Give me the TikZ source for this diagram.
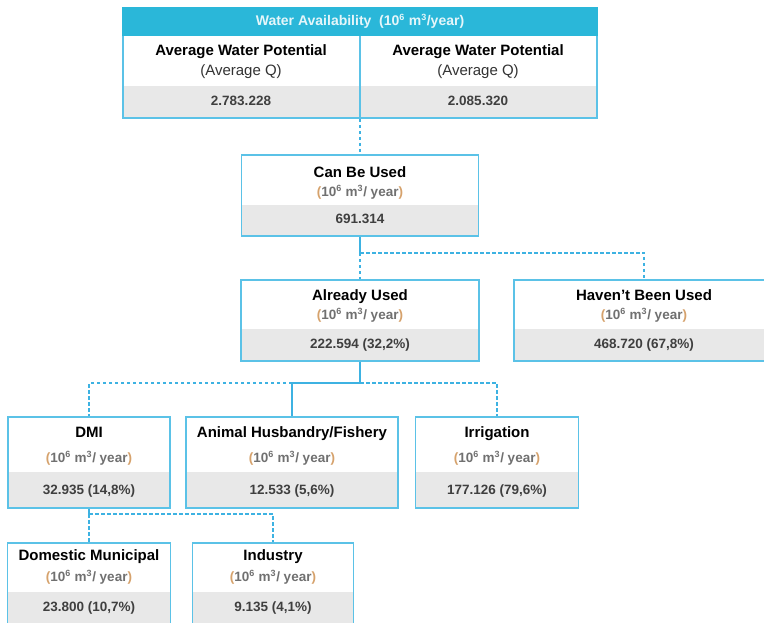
\documentclass[tikz,border=0pt]{standalone}
\usepackage{fontspec}
\setmainfont{Liberation Sans}
\usetikzlibrary{positioning}
\definecolor{boxblue}{HTML}{5BC2E7}
\definecolor{linkblue}{HTML}{3DB2E2}
\definecolor{headcyan}{HTML}{2AB7D9}
\definecolor{bandgray}{HTML}{E8E8E8}
\definecolor{unitgray}{HTML}{707070}
\definecolor{valgray}{HTML}{3F3F3F}
\definecolor{parenorange}{HTML}{D6A26C}
\newcommand{\sups}[1]{\textsuperscript{\fontsize{9}{9}\selectfont #1}}
\newcommand{\units}{\textcolor{parenorange}{(}10\sups{6} m\sups{3}/ year\textcolor{parenorange}{)}}

\begin{document}
\begin{tikzpicture}[x=1pt, y=-1pt,
    box/.style={draw=boxblue, line width=1.7pt, fill=white, inner sep=0pt,
        path picture={\fill[bandgray] ([yshift=#1pt]path picture bounding box.south west)
            rectangle (path picture bounding box.south east);}},
    box/.default=32,
    txt/.style={inner sep=0pt, text height=0.72em, text depth=0pt},
    title/.style={txt, font=\fontsize{15}{18}\selectfont\bfseries, text=black},
    unit/.style={txt, font=\fontsize{13.5}{16}\selectfont\bfseries, text=unitgray},
    value/.style={txt, font=\fontsize{13.5}{16}\selectfont\bfseries, text=valgray},
    link/.style={draw=linkblue, line width=1.8pt},
    dlink/.style={link, dash pattern=on 3.5pt off 2.5pt}]
    \clip (0,0) rectangle (764,623);

    % Water availability table
    \node[box, minimum width=474pt, minimum height=110pt] (avail) at (360,63) {};
    \fill[headcyan] (avail.north west) rectangle ([yshift=-29pt]avail.north east);
    \draw[draw=boxblue, line width=1.7pt] ([yshift=-29pt]avail.north) -- (avail.south);
    \node[txt, font=\fontsize{14}{17}\selectfont\bfseries, text=white!88!headcyan] (avail-t) at (360,22)
        {Water Availability \ (10\sups{6} m\sups{3}/year)};
    \node[title] (left-t) at (241,52) {Average Water Potential};
    \node[txt, font=\fontsize{15}{18}\selectfont, text=black!80] (left-u) at (241,72) {(Average Q)};
    \node[value] (left-v) at (241,102) {2.783.228};
    \node[title] (right-t) at (478,52) {Average Water Potential};
    \node[txt, font=\fontsize{15}{18}\selectfont, text=black!80] (right-u) at (478,72) {(Average Q)};
    \node[value] (right-v) at (478,102) {2.085.320};

    % Can be used
    \node[box=31, minimum width=237pt, minimum height=81pt] (canuse) at (360,195.5) {};
    \node[title] (canuse-t) at (360,174) {Can Be Used};
    \node[unit] (canuse-u) at (360,193) {\units};
    \node[value] (canuse-v) at (360,220) {691.314};

    % Already used / not used yet
    \node[box, minimum width=238pt, minimum height=81pt] (already) at (360,320.5) {};
    \node[title] (already-t) at (360,297) {Already Used};
    \node[unit] (already-u) at (360,316) {\units};
    \node[value] (already-v) at (360,345) {222.594 (32,2\%)};
    \node[box, minimum width=260pt, minimum height=81pt] (haven) at (644,320.5) {};
    \node[title] (haven-t) at (644,297) {Haven't Been Used};
    \node[unit] (haven-u) at (644,316) {\units};
    \node[value] (haven-v) at (644,345) {468.720 (67,8\%)};

    % Users
    \node[box=36, minimum width=162pt, minimum height=91pt] (dmi) at (89,462.5) {};
    \node[title] (dmi-t) at (89,434) {DMI};
    \node[unit] (dmi-u) at (89,459) {\units};
    \node[value] (dmi-v) at (89,491) {32.935 (14,8\%)};
    \node[box=36, minimum width=212pt, minimum height=91pt] (animal) at (292,462.5) {};
    \node[title] (animal-t) at (292,434) {Animal Husbandry/Fishery};
    \node[unit] (animal-u) at (292,459) {\units};
    \node[value] (animal-v) at (292,491) {12.533 (5,6\%)};
    \node[box=36, minimum width=163pt, minimum height=91pt] (irrig) at (497,462.5) {};
    \node[title] (irrig-t) at (497,434) {Irrigation};
    \node[unit] (irrig-u) at (497,459) {\units};
    \node[value] (irrig-v) at (497,491) {177.126 (79,6\%)};

    % DMI split
    \node[box=35, minimum width=163pt, minimum height=84pt] (domestic) at (89,585) {};
    \node[title] (domestic-t) at (89,557) {Domestic Municipal};
    \node[unit] (domestic-u) at (89,578) {\units};
    \node[value] (domestic-v) at (89,608) {23.800 (10,7\%)};
    \node[box=35, minimum width=161pt, minimum height=84pt] (industry) at (273,585) {};
    \node[title] (industry-t) at (273,557) {Industry};
    \node[unit] (industry-u) at (273,578) {\units};
    \node[value] (industry-v) at (273,608) {9.135 (4,1\%)};

    % Connectors
    \coordinate (split1) at (360,253);
    \coordinate (split2) at (360,383);
    \coordinate (split3) at (89,514);
    \draw[dlink] (avail.south) -- (canuse.north);
    \draw[link] (canuse.south) -- (split1);
    \draw[dlink] (split1) -- (already.north);
    \draw[dlink] (split1) -| (haven.north);
    \draw[link] (already.south) -- (split2) -| (animal.north);
    \draw[dlink] (animal.north |- split2) -| (dmi.north);
    \draw[dlink] (split2) -| (irrig.north);
    \draw[link] (dmi.south) -- (split3);
    \draw[dlink] (split3) -- (domestic.north);
    \draw[dlink] (split3) -| (industry.north);
\end{tikzpicture}
\end{document}
